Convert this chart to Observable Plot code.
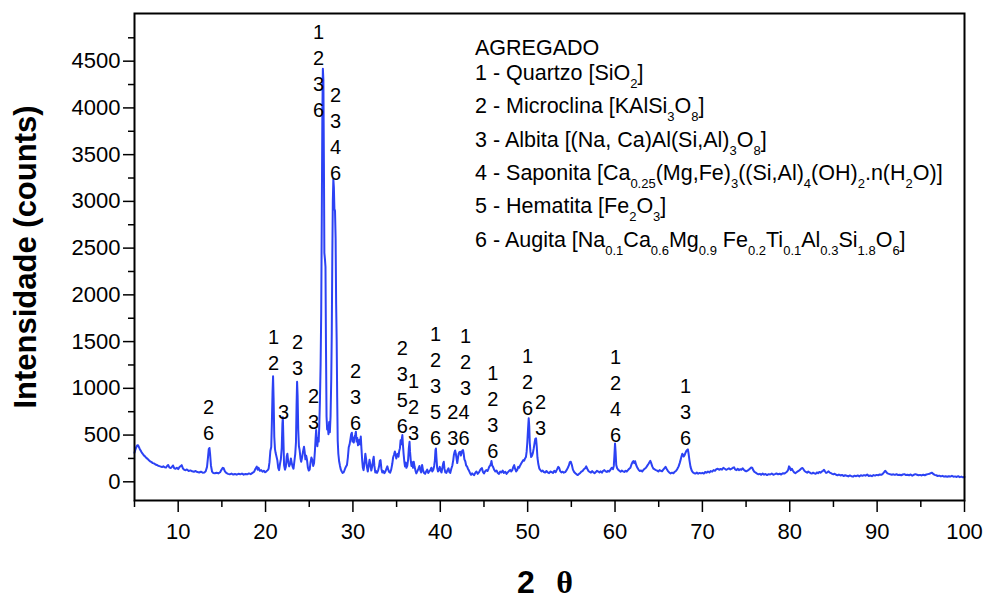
<!DOCTYPE html>
<html>
<head>
<meta charset="utf-8">
<script src="https://cdn.jsdelivr.net/npm/d3@7"></script>
<script src="https://cdn.jsdelivr.net/npm/@observablehq/plot@0.6"></script>
<style>
  html, body { margin: 0; padding: 0; background: white; }
  #chart { width: 989px; height: 598px; }
</style>
</head>
<body>
<div id="chart"></div>
<script>
// ---- Diffraction pattern [2θ, counts] ----
const seg5to20 = [[5.0,310],[5.1,345],[5.2,370],[5.3,388],[5.4,392],[5.5,372],[5.6,352],[5.7,335],[5.8,318],[5.9,305],[6.0,292],[6.1,280],[6.2,272],[6.35,256],[6.5,245],[6.65,230],[6.8,218],[6.95,210],[7.1,200],[7.25,196],[7.4,185],[7.55,180],[7.7,172],[7.85,168],[8.0,163],[8.15,158],[8.3,166],[8.45,155],[8.6,152],[8.75,172],[8.85,180],[9.0,152],[9.15,148],[9.3,160],[9.4,175],[9.55,145],[9.7,140],[9.85,150],[10.0,136],[10.15,158],[10.3,170],[10.4,178],[10.55,142],[10.7,128],[10.85,124],[11.0,132],[11.2,116],[11.4,122],[11.6,112],[11.8,108],[12.0,115],[12.2,104],[12.4,100],[12.6,108],[12.8,98],[13.0,100],[13.15,112],[13.3,160],[13.4,250],[13.5,350],[13.58,362],[13.65,300],[13.75,175],[13.88,108],[14.0,95],[14.2,92],[14.4,97],[14.6,90],[14.8,102],[14.95,128],[15.1,150],[15.2,145],[15.35,112],[15.5,95],[15.7,85],[15.9,80],[16.1,88],[16.3,78],[16.5,84],[16.7,76],[16.9,86],[17.1,80],[17.3,88],[17.5,76],[17.7,84],[17.9,80],[18.1,90],[18.3,82],[18.5,95],[18.7,108],[18.85,140],[19.0,162],[19.1,128],[19.2,150],[19.35,118],[19.5,125],[19.65,108],[19.8,118],[19.95,102],[20.1,112],[20.25,125],[20.35,140]];

const seg20to31 = [[20.45,210],[20.55,330],[20.65,372],[20.72,620],[20.8,960],[20.86,1130],[20.92,900],[21.0,480],[21.08,350],[21.15,310],[21.25,270],[21.35,230],[21.45,150],[21.55,125],[21.65,190],[21.75,240],[21.85,360],[21.93,620],[21.98,690],[22.05,430],[22.12,180],[22.22,130],[22.32,160],[22.42,270],[22.5,300],[22.6,210],[22.7,165],[22.8,190],[22.9,250],[23.0,200],[23.1,160],[23.2,140],[23.3,220],[23.4,300],[23.48,420],[23.55,820],[23.61,1070],[23.67,920],[23.74,560],[23.82,380],[23.9,340],[24.0,250],[24.08,215],[24.18,260],[24.3,330],[24.4,375],[24.48,320],[24.56,240],[24.65,280],[24.75,230],[24.85,150],[24.95,120],[25.05,130],[25.15,210],[25.25,260],[25.35,235],[25.45,170],[25.55,200],[25.65,330],[25.72,450],[25.79,555],[25.86,460],[25.93,380],[26.0,470],[26.08,430],[26.15,600],[26.22,850],[26.3,1250],[26.37,1800],[26.44,2900],[26.5,3900],[26.56,4420],[26.62,4300],[26.68,3400],[26.73,2450],[26.8,2380],[26.86,2300],[26.92,1400],[26.98,700],[27.05,560],[27.12,600],[27.2,510],[27.28,640],[27.36,530],[27.44,700],[27.52,1100],[27.58,1600],[27.64,2400],[27.7,3000],[27.76,3240],[27.82,3150],[27.88,2920],[27.95,2900],[28.02,2600],[28.08,1900],[28.14,1520],[28.2,900],[28.26,440],[28.33,300],[28.42,220],[28.52,170],[28.62,130],[28.72,110],[28.82,95],[28.92,100],[29.02,120],[29.12,145],[29.22,165],[29.32,180],[29.42,260],[29.52,370],[29.62,400],[29.72,460],[29.8,510],[29.88,525],[29.95,430],[30.02,470],[30.1,420],[30.18,480],[30.26,500],[30.34,535],[30.42,430],[30.5,470],[30.58,390],[30.66,420],[30.74,450],[30.82,400],[30.9,485],[30.98,350]];

const seg31to52 = [[31.06,230],[31.14,150],[31.22,125],[31.32,200],[31.42,300],[31.5,250],[31.6,160],[31.7,110],[31.8,170],[31.9,235],[32.0,180],[32.1,120],[32.2,160],[32.3,230],[32.38,268],[32.46,170],[32.56,100],[32.66,115],[32.76,95],[32.88,120],[32.98,160],[33.08,225],[33.16,232],[33.26,140],[33.36,100],[33.48,115],[33.6,92],[33.72,110],[33.84,140],[33.94,165],[34.04,130],[34.14,105],[34.26,98],[34.38,130],[34.5,190],[34.6,260],[34.7,290],[34.8,325],[34.88,300],[34.96,250],[35.04,280],[35.14,300],[35.22,268],[35.3,330],[35.38,360],[35.46,445],[35.52,400],[35.6,460],[35.66,500],[35.72,400],[35.8,300],[35.88,220],[35.96,165],[36.04,205],[36.12,150],[36.22,170],[36.32,240],[36.4,360],[36.48,428],[36.54,320],[36.62,230],[36.7,170],[36.78,210],[36.88,150],[36.96,215],[37.06,160],[37.16,120],[37.26,90],[37.38,115],[37.5,140],[37.62,170],[37.72,120],[37.82,100],[37.92,180],[38.02,125],[38.14,95],[38.26,85],[38.38,110],[38.5,130],[38.62,95],[38.74,110],[38.86,125],[38.98,150],[39.08,110],[39.2,130],[39.3,170],[39.38,230],[39.45,340],[39.5,357],[39.56,260],[39.64,150],[39.74,110],[39.84,125],[39.94,160],[40.04,120],[40.14,100],[40.24,150],[40.34,200],[40.4,214],[40.48,140],[40.58,100],[40.7,95],[40.82,125],[40.94,145],[41.04,105],[41.14,95],[41.26,140],[41.38,175],[41.48,230],[41.56,290],[41.64,321],[41.7,335],[41.78,300],[41.86,250],[41.94,200],[42.02,250],[42.1,300],[42.2,320],[42.28,321],[42.36,280],[42.44,310],[42.52,335],[42.6,340],[42.68,300],[42.76,240],[42.86,220],[42.96,175],[43.06,165],[43.16,140],[43.28,120],[43.4,95],[43.52,75],[43.64,90],[43.76,80],[43.88,72],[44.0,95],[44.14,110],[44.28,85],[44.42,100],[44.56,125],[44.68,140],[44.77,146],[44.88,105],[45.0,90],[45.12,110],[45.26,125],[45.4,115],[45.52,140],[45.62,165],[45.72,175],[45.8,200],[45.86,222],[45.94,175],[46.04,160],[46.16,130],[46.3,110],[46.44,120],[46.58,95],[46.72,85],[46.86,110],[47.0,100],[47.14,120],[47.28,95],[47.44,108],[47.58,85],[47.72,100],[47.86,115],[48.0,128],[48.12,110],[48.24,125],[48.36,160],[48.46,178],[48.56,140],[48.68,110],[48.8,125],[48.92,160],[49.02,150],[49.14,175],[49.26,195],[49.38,215],[49.5,232],[49.6,225],[49.7,250],[49.8,265],[49.88,320],[49.96,420],[50.04,560],[50.12,680],[50.18,600],[50.24,420],[50.32,320],[50.4,265],[50.5,280],[50.6,310],[50.7,360],[50.8,420],[50.88,460],[50.96,465],[51.04,380],[51.12,260],[51.22,190],[51.34,140],[51.46,125],[51.58,110],[51.72,120],[51.86,105]];

const seg52to75 = [[52.0,100],[52.15,115],[52.3,100],[52.45,92],[52.6,110],[52.75,104],[52.9,95],[53.05,118],[53.2,102],[53.35,130],[53.5,160],[53.6,150],[53.72,115],[53.86,100],[54.0,108],[54.14,98],[54.3,104],[54.46,125],[54.6,150],[54.72,175],[54.82,210],[54.94,214],[55.06,180],[55.18,130],[55.32,105],[55.46,92],[55.6,80],[55.74,72],[55.88,85],[56.02,95],[56.16,110],[56.3,118],[56.44,135],[56.58,145],[56.7,165],[56.82,140],[56.96,115],[57.1,105],[57.24,98],[57.38,115],[57.52,100],[57.66,92],[57.8,104],[57.94,118],[58.08,110],[58.22,100],[58.36,112],[58.5,98],[58.64,118],[58.78,125],[58.92,112],[59.06,105],[59.2,118],[59.34,110],[59.48,130],[59.62,150],[59.76,135],[59.86,170],[59.94,300],[60.0,410],[60.06,330],[60.14,180],[60.24,145],[60.36,130],[60.5,118],[60.64,108],[60.78,120],[60.92,112],[61.06,105],[61.2,118],[61.34,110],[61.48,125],[61.62,140],[61.76,150],[61.88,185],[62.0,210],[62.1,222],[62.2,200],[62.3,220],[62.42,180],[62.56,150],[62.7,128],[62.84,115],[62.98,122],[63.12,110],[63.26,128],[63.4,140],[63.54,150],[63.68,170],[63.82,190],[63.94,210],[64.04,225],[64.14,200],[64.26,165],[64.4,140],[64.54,132],[64.68,125],[64.82,120],[64.96,110],[65.1,125],[65.24,118],[65.38,112],[65.52,130],[65.66,145],[65.78,160],[65.9,140],[66.04,118],[66.2,100],[66.36,90],[66.52,98],[66.68,92],[66.84,108],[67.0,118],[67.14,140],[67.28,165],[67.4,200],[67.52,240],[67.62,275],[67.7,300],[67.78,290],[67.86,270],[67.96,285],[68.06,310],[68.16,330],[68.26,340],[68.34,347],[68.42,300],[68.52,230],[68.64,160],[68.78,120],[68.92,100],[69.06,92],[69.2,88],[69.36,98],[69.52,86],[69.68,95],[69.84,90],[70.0,96],[70.16,88],[70.32,105],[70.48,98],[70.64,110],[70.8,100],[70.96,115],[71.12,108],[71.28,125],[71.44,118],[71.6,135],[71.76,140],[71.92,128],[72.08,138],[72.24,130],[72.4,150],[72.56,140],[72.72,128],[72.88,135],[73.04,145],[73.2,132],[73.36,140],[73.5,150],[73.62,155],[73.76,130],[73.9,125],[74.04,140],[74.18,125],[74.32,135],[74.46,128],[74.6,145],[74.74,130],[74.88,118]];

const seg75to100 = [[75.02,112],[75.16,120],[75.3,128],[75.44,140],[75.58,152],[75.7,150],[75.82,125],[75.96,105],[76.1,98],[76.26,88],[76.42,80],[76.58,85],[76.74,75],[76.9,88],[77.06,76],[77.22,84],[77.4,72],[77.58,82],[77.76,78],[77.94,88],[78.12,75],[78.3,82],[78.48,90],[78.66,80],[78.84,86],[79.02,78],[79.2,92],[79.38,88],[79.56,100],[79.7,110],[79.82,130],[79.92,165],[80.02,150],[80.12,125],[80.24,140],[80.36,118],[80.5,100],[80.64,92],[80.78,102],[80.92,112],[81.06,120],[81.2,130],[81.32,142],[81.44,148],[81.56,135],[81.7,115],[81.84,105],[81.98,98],[82.12,110],[82.26,100],[82.4,92],[82.54,88],[82.68,98],[82.82,90],[82.96,85],[83.1,100],[83.24,92],[83.38,105],[83.52,98],[83.66,110],[83.8,118],[83.92,128],[84.04,110],[84.16,95],[84.3,102],[84.44,112],[84.58,98],[84.72,92],[84.86,85],[85.0,80],[85.14,86],[85.3,75],[85.46,70],[85.62,78],[85.8,68],[85.98,74],[86.16,62],[86.34,70],[86.52,65],[86.7,58],[86.88,68],[87.06,60],[87.24,55],[87.42,66],[87.6,60],[87.78,68],[87.96,58],[88.14,70],[88.32,64],[88.5,72],[88.68,66],[88.86,78],[89.04,62],[89.22,68],[89.4,60],[89.58,72],[89.76,66],[89.94,74],[90.12,70],[90.3,78],[90.48,75],[90.64,85],[90.78,100],[90.92,118],[91.04,105],[91.18,90],[91.34,85],[91.5,80],[91.68,76],[91.86,80],[92.04,74],[92.22,82],[92.4,72],[92.58,76],[92.76,70],[92.94,78],[93.12,82],[93.3,72],[93.48,76],[93.66,70],[93.84,78],[94.02,66],[94.2,75],[94.38,82],[94.56,76],[94.74,70],[94.92,74],[95.1,68],[95.28,76],[95.46,70],[95.64,78],[95.82,82],[96.0,86],[96.14,92],[96.28,98],[96.42,84],[96.58,74],[96.76,70],[96.94,62],[97.12,66],[97.3,58],[97.48,64],[97.66,55],[97.84,60],[98.02,54],[98.2,60],[98.38,56],[98.56,64],[98.74,55],[98.92,58],[99.1,52],[99.28,60],[99.46,50],[99.64,56],[99.82,48],[100.0,52]];

// ---- Peak identification labels: 2θ, count level of the lowest line, phase numbers ----
const peakTheta = [13.47, 20.91, 22.05, 23.66, 25.49, 26.06, 28.0, 30.3, 35.64, 36.93, 39.45, 42.88, 42.08, 46.0, 50.0, 51.47, 60.05, 68.06];
const peakBase  = [447, 1196, 671, 1143, 564, 3905, 3231, 554, 521, 447, 393, 928, 393, 254, 714, 500, 425, 393];
const peakPhases = ["2\n6", "1\n2", "3", "2\n3", "2\n3", "1\n2\n3\n6", "2\n3\n4\n6", "2\n3\n6", "2\n3\n5\n6", "1\n2\n3", "1\n2\n3\n5\n6", "1\n2\n3", "24\n36", "1\n2\n3\n6", "1\n2\n6", "2\n3", "1\n2\n4\n6", "1\n3\n6"];

// ---- Axis ticks ----
const xMajor = [10, 20, 30, 40, 50, 60, 70, 80, 90, 100];
const xMinor = [5, 15, 25, 35, 45, 55, 65, 75, 85, 95];
const yMajor = [0, 500, 1000, 1500, 2000, 2500, 3000, 3500, 4000, 4500];
const yMinor = [250, 750, 1250, 1750, 2250, 2750, 3250, 3750, 4250, 4750];

// ---- Texts ----
const yTitle = "Intensidade (counts)";
const legendLines = [
  "AGREGADO",
  "1 - Quartzo [SiO_{2}]",
  "2 - Microclina [KAlSi_{3}O_{8}]",
  "3 - Albita [(Na, Ca)Al(Si,Al)_{3}O_{8}]",
  "4 - Saponita [Ca_{0.25}(Mg,Fe)_{3}((Si,Al)_{4}(OH)_{2}.n(H_{2}O)]",
  "5 - Hematita [Fe_{2}O_{3}]",
  "6 - Augita [Na_{0.1}Ca_{0.6}Mg_{0.9} Fe_{0.2}Ti_{0.1}Al_{0.3}Si_{1.8}O_{6}]"
];

const pattern = [...seg5to20, ...seg20to31, ...seg31to52, ...seg52to75, ...seg75to100];
const peaks = peakTheta.map((t, i) => ({theta: t, base: peakBase[i], label: peakPhases[i]}));

const FONT = "'Liberation Sans', Arial, Helvetica, sans-serif";
const blue = "#2c42f4";

const chart = Plot.plot({
  width: 989,
  height: 598,
  marginLeft: 134,
  marginRight: 25,
  marginTop: 13,
  marginBottom: 98,
  style: {fontFamily: FONT, background: "white", color: "black", overflow: "visible"},
  x: {domain: [5, 100]},
  y: {domain: [-200, 5010]},
  marks: [
    Plot.line(pattern, {x: d => d[0], y: d => d[1], stroke: blue, strokeWidth: 2}),
    Plot.frame({stroke: "black", strokeWidth: 2}),
    Plot.axisX({ticks: xMajor, tickSize: 12, tickPadding: 11, fontSize: 22, strokeWidth: 1.5, label: null, tickFormat: d => String(d)}),
    Plot.axisX({ticks: xMinor, tickSize: 7, strokeWidth: 1.5, label: null, tickFormat: () => ""}),
    Plot.axisY({ticks: yMajor, tickSize: 11, tickPadding: 3, fontSize: 22, strokeWidth: 1.5, label: null, tickFormat: d => String(d)}),
    Plot.axisY({ticks: yMinor, tickSize: 6, strokeWidth: 1.5, label: null, tickFormat: () => ""}),
    Plot.text(peaks, {x: "theta", y: "base", text: "label", fontSize: 20, lineHeight: 1.3, lineAnchor: "bottom", fill: "black"}),
    Plot.text([yTitle], {frameAnchor: "left", textAnchor: "middle", dx: -108, rotate: -90, fontSize: 31, fontWeight: "bold", fill: "black"}),
    Plot.text(["2"], {frameAnchor: "bottom", textAnchor: "middle", dx: -23.5, dy: 92, lineAnchor: "bottom", fontSize: 32, fontWeight: "bold", fill: "black"}),
    Plot.text(["θ"], {frameAnchor: "bottom", textAnchor: "middle", dx: 15, dy: 92, lineAnchor: "bottom", fontSize: 32, fontWeight: "bold", fontFamily: "'Liberation Serif', 'DejaVu Serif', serif", fill: "black"})
  ]
});

// ---- Legend with subscripts ----
const legendBaselines = [55, 80, 113, 146.5, 180, 213, 246.5];
const svg = d3.select(chart);
const leg = svg.append("g")
  .attr("font-family", FONT)
  .attr("font-size", 21.5)
  .attr("fill", "black")
  .attr("text-anchor", "start")
  .style("white-space", "pre");
legendLines.forEach((line, i) => {
  const t = leg.append("text").attr("x", 475).attr("y", legendBaselines[i]).attr("text-anchor", "start");
  const parts = line.split(/(_\{[^}]*\})/).filter(s => s.length);
  let shift = 0;
  parts.forEach(p => {
    const isSub = p.startsWith("_{");
    const txt = isSub ? p.slice(2, -1) : p;
    const target = isSub ? 8 : 0;
    const ts = t.append("tspan").attr("dy", target - shift).text(txt);
    if (isSub) ts.attr("font-size", 13);
    shift = target;
  });
});

document.getElementById("chart").appendChild(chart);
</script>
</body>
</html>
